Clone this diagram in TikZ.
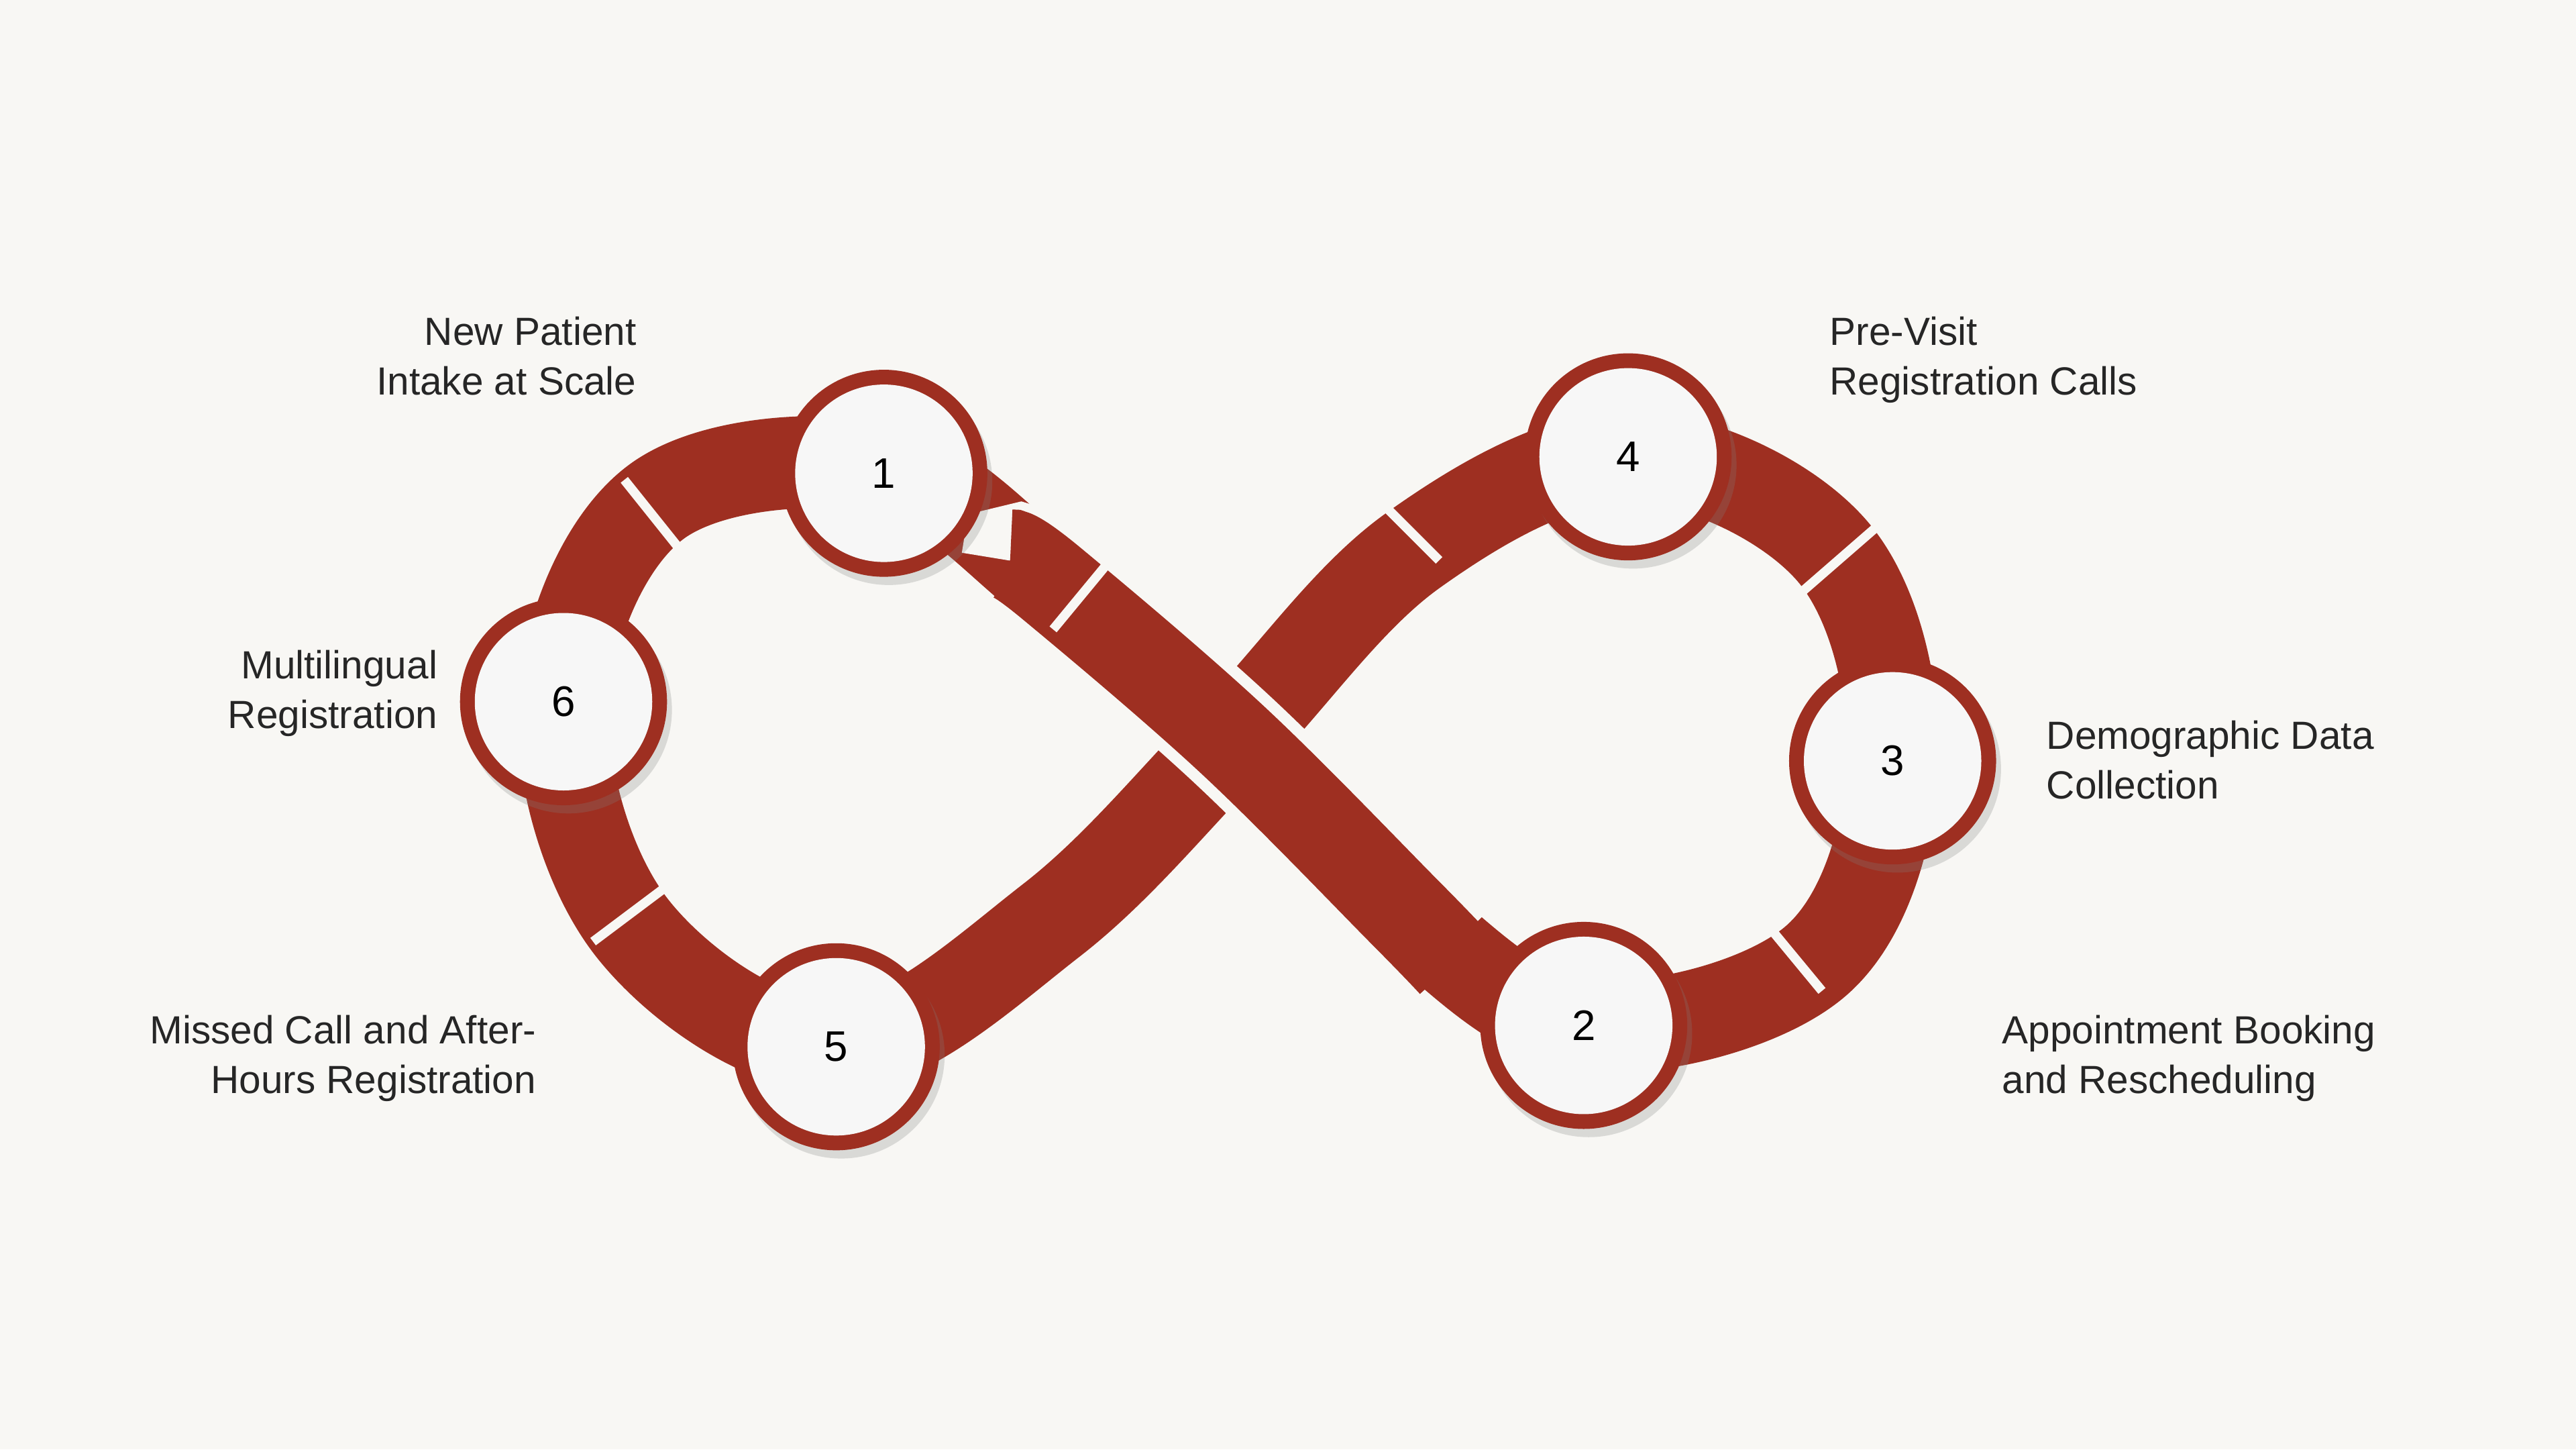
\documentclass[tikz,border=0pt]{standalone}
\usepackage{fontspec}
\setmainfont{Liberation Sans}
\usetikzlibrary{shadows,calc}
\definecolor{bg}{HTML}{F8F7F4}
\definecolor{band}{HTML}{9E2F21}
\definecolor{disc}{HTML}{F7F7F7}
\tikzset{
 lbl/.style={font=\fontsize{6.8}{8.6}\selectfont, text=black!85, inner sep=0pt},
 ring/.style={circle, fill=band, minimum size=1.26cm, inner sep=0pt,
   drop shadow={shadow xshift=0.03cm, shadow yshift=-0.05cm, opacity=0.25}},
 face/.style={circle, fill=disc, minimum size=1.08cm, inner sep=0pt,
   font=\fontsize{7.4}{9}\selectfont},
 cut/.style={bg, line width=1.6pt}
}
\begin{document}
\begin{tikzpicture}
\fill[bg] (0,0) rectangle (15.68,-8.82);
\useasboundingbox (0,0) rectangle (15.68,-8.82);
% band
\draw[band, line width=0.56cm] plot[smooth cycle, tension=0.6] coordinates {
 (7.50,-4.50) (6.40,-3.55) (5.38,-2.85) (4.00,-3.05) (3.43,-4.27) (3.85,-5.65)
 (5.09,-6.37) (6.40,-5.60) (7.50,-4.50) (8.60,-3.35) (9.91,-2.78) (11.15,-3.35)
 (11.52,-4.63) (11.05,-5.85) (9.64,-6.24) (8.55,-5.55)};
% over strand
\draw[bg, line width=0.70cm] plot[smooth, tension=0.6] coordinates {
 (8.80,-5.80) (8.55,-5.55) (7.50,-4.50) (6.40,-3.55) (6.20,-3.42)};
\draw[band, line width=0.56cm] plot[smooth, tension=0.6] coordinates {
 (8.85,-5.86) (8.55,-5.55) (7.50,-4.50) (6.40,-3.55) (6.15,-3.38)};
% segment cuts
\draw[cut] (3.80,-2.92) -- (4.28,-3.52);
\draw[cut] (3.61,-5.73) -- (4.09,-5.37);
\draw[cut] (6.41,-3.83) -- (6.79,-3.37);
\draw[cut] (8.34,-2.99) -- (8.76,-3.41);
\draw[cut] (10.97,-3.60) -- (11.43,-3.20);
\draw[cut] (10.71,-5.57) -- (11.09,-6.03);
% circles
\foreach \n/\x/\y in {1/5.38/-2.88, 4/9.91/-2.78, 6/3.43/-4.27, 3/11.52/-4.63, 5/5.09/-6.37, 2/9.64/-6.24}{
 \node[ring] (r\n) at (\x,\y) {};
 \node[face] (c\n) at (\x,\y) {\n};
}
% labels
\node[lbl, align=right, anchor=north east] (l1) at (3.88,-1.92) {New Patient\\Intake at Scale};
\node[lbl, align=left, anchor=north west] (l4) at (11.13,-1.92) {Pre-Visit\\Registration Calls};
\node[lbl, align=right, anchor=north east] (l6) at (2.67,-3.95) {Multilingual\\Registration};
\node[lbl, align=left, anchor=north west] (l3) at (12.45,-4.38) {Demographic Data\\Collection};
\node[lbl, align=right, anchor=north east] (l5) at (3.27,-6.17) {Missed Call and After-\\Hours Registration};
\node[lbl, align=left, anchor=north west] (l2) at (12.18,-6.17) {Appointment Booking\\and Rescheduling};
\end{tikzpicture}
\end{document}
